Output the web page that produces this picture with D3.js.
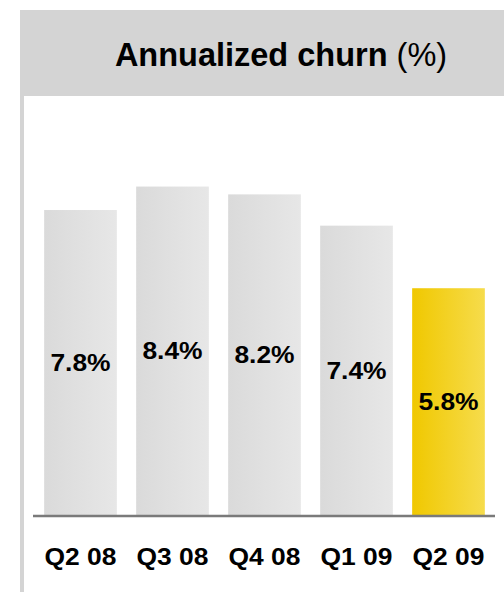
<!DOCTYPE html>
<html>
<head>
<meta charset="utf-8">
<script src="https://cdn.jsdelivr.net/npm/d3@7"></script>
<style>
  html, body { margin: 0; padding: 0; background: #fff; }
  svg { display: block; font-family: "Liberation Sans", Arial, Helvetica, sans-serif; }
</style>
</head>
<body>
<svg id="chart" width="504" height="592"></svg>
<script>
// Quarterly annualized churn, in percent
const categories = ["Q2 08", "Q3 08", "Q4 08", "Q1 09", "Q2 09"];
const churn = [7.8, 8.4, 8.2, 7.4, 5.8];
const valueLabels = ["7.8%", "8.4%", "8.2%", "7.4%", "5.8%"];
const highlight = "Q2 09";

const svg = d3.select("#chart");
const W = 504, H = 592;

// Gradients: grey for past quarters, gold for the latest one
const defs = svg.append("defs");
function gradient(id, c0, c1) {
  const g = defs.append("linearGradient").attr("id", id)
    .attr("x1", "0%").attr("x2", "100%").attr("y1", "0%").attr("y2", "0%");
  g.append("stop").attr("offset", "0%").attr("stop-color", c0);
  g.append("stop").attr("offset", "100%").attr("stop-color", c1);
}
gradient("gradGrey", "#dadada", "#e7e7e7");
gradient("gradGold", "#f0c800", "#f6dc4c");

// Panel frame: header band and left rule
svg.append("rect").attr("x", 20).attr("y", 10).attr("width", W - 20).attr("height", 86).attr("fill", "#d4d4d4");
svg.append("rect").attr("x", 20).attr("y", 10).attr("width", 4).attr("height", H - 10).attr("fill", "#d4d4d4");

const title = svg.append("text")
  .attr("x", 281).attr("y", 66)
  .attr("text-anchor", "middle")
  .attr("font-size", 32.5)
  .attr("fill", "#000");
title.append("tspan").attr("font-weight", "bold").text("Annualized churn");
title.append("tspan").attr("font-weight", "normal").text(" (%)");

// Scales
const x = d3.scaleBand()
  .domain(categories)
  .range([34.5, 494.5])
  .paddingInner(0.21)
  .paddingOuter(0.105);

const y = d3.scaleLinear().domain([0, 10]).range([515, 124]);

const data = categories.map((c, i) => ({ cat: c, value: churn[i], label: valueLabels[i] }));

// Bars
svg.append("g").selectAll("rect")
  .data(data)
  .join("rect")
  .attr("x", d => x(d.cat))
  .attr("y", d => y(d.value))
  .attr("width", x.bandwidth())
  .attr("height", d => y(0) - y(d.value))
  .attr("fill", d => d.cat === highlight ? "url(#gradGold)" : "url(#gradGrey)");

// Value labels, centred in each bar
svg.append("g").selectAll("text")
  .data(data)
  .join("text")
  .attr("transform", d => {
    const cx = x(d.cat) + x.bandwidth() / 2;
    const cy = (y(d.value) + y(0)) / 2;
    return `translate(${cx},${cy}) scale(1.1,1)`;
  })
  .attr("text-anchor", "middle")
  .attr("dy", "0.35em")
  .attr("font-size", 24)
  .attr("font-weight", "bold")
  .attr("fill", "#000")
  .text(d => d.label);

// Baseline axis
const axis = d3.axisBottom(x).tickSize(0).tickPadding(0);
const axisG = svg.append("g").attr("transform", `translate(0,${y(0) + 1})`).call(axis);
axisG.select(".domain").remove();
axisG.selectAll(".tick text").remove();
axisG.append("line")
  .attr("x1", 33).attr("x2", 495)
  .attr("y1", 0).attr("y2", 0)
  .attr("stroke", "#7a7a7a").attr("stroke-width", 2.5);

// Category labels
axisG.selectAll(".tick").append("text")
  .attr("transform", "translate(0,49) scale(1.1,1)")
  .attr("text-anchor", "middle")
  .attr("font-size", 24)
  .attr("font-weight", "bold")
  .attr("fill", "#000")
  .text(d => d);
</script>
</body>
</html>
